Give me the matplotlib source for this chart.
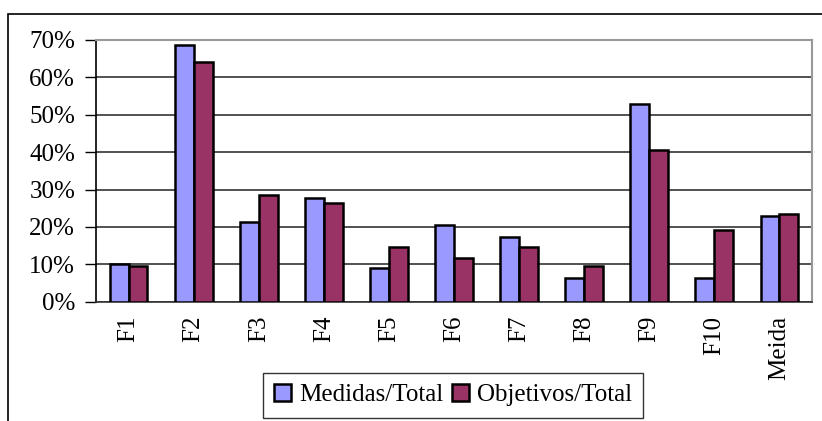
import matplotlib
matplotlib.use("Agg")
import matplotlib.pyplot as plt
import numpy as np
from matplotlib.patches import Rectangle

categories = ["F1", "F2", "F3", "F4", "F5", "F6", "F7", "F8", "F9", "F10", "Meida"]
medidas = [10.2, 68.6, 21.4, 27.8, 9.1, 20.4, 17.2, 6.4, 52.9, 6.3, 22.9]
objetivos = [9.6, 64.2, 28.5, 26.3, 14.5, 11.8, 14.5, 9.6, 40.6, 19.1, 23.4]
series_names = ["Medidas/Total", "Objetivos/Total"]
yticks = [0, 10, 20, 30, 40, 50, 60, 70]

plt.rcParams['font.family'] = ['Liberation Serif', 'DejaVu Serif']

fig = plt.figure(figsize=(8.22, 4.21), dpi=100)
W, H = 822, 421
ax = fig.add_axes([96 / W, 1 - 301.7 / H, (812 - 96) / W, (301.7 - 40) / H])

x = np.arange(len(categories))
bw = 0.29
ax.bar(x - bw / 2, medidas, bw, color="#9999FF", edgecolor="black", linewidth=1.8,
       label=series_names[0], zorder=3)
ax.bar(x + bw / 2, objetivos, bw, color="#993366", edgecolor="black", linewidth=1.8,
       label=series_names[1], zorder=3)

ax.set_xlim(-0.5, len(categories) - 0.5)
ax.set_ylim(0, 70)
ax.set_yticks(yticks)
ax.set_yticklabels([f"{v}%" for v in yticks], fontsize=18)
ax.yaxis.grid(True, color="#333333", linewidth=1.2, zorder=0)
ax.set_xticks(x)
ax.set_xticklabels(categories, rotation=90, fontsize=18)
ax.tick_params(axis="x", length=0, pad=10)
ax.tick_params(axis="y", length=8, width=1, pad=7, direction="out")

for s in ["top", "right"]:
    ax.spines[s].set_color("#999999")
    ax.spines[s].set_linewidth(1.5)
ax.spines["left"].set_color("black")
ax.spines["left"].set_linewidth(1.2)
ax.spines["bottom"].set_color("#333333")
ax.spines["bottom"].set_linewidth(1.2)

leg = fig.legend(loc="center", bbox_to_anchor=(453 / W, 1 - 395 / H), ncol=2,
                 fontsize=18, frameon=True, fancybox=False, edgecolor="black",
                 handlelength=0.7, handleheight=0.7, handletextpad=0.3,
                 columnspacing=0.35, borderpad=0.45)
leg.get_frame().set_linewidth(1.0)

# outer chart frame (partially clipped by the image edges)
fig.patches.append(Rectangle((8 / W, -0.1), 1.2, 1 - 14 / H + 0.1, transform=fig.transFigure,
                             fill=False, edgecolor="black", linewidth=1.2))

fig.savefig("out.png", dpi=100)
